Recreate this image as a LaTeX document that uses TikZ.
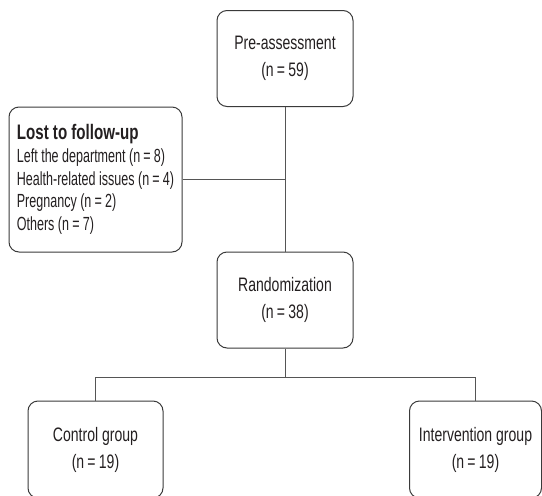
\documentclass[tikz,border=0pt]{standalone}
\usepackage{fontspec}
\setmainfont{Liberation Sans}[FakeStretch=0.72]
\usepackage{tikz}
\usetikzlibrary{positioning,calc}

\definecolor{boxline}{HTML}{3A3A3A}
\definecolor{linkline}{HTML}{555555}
\definecolor{txt}{HTML}{231F20}

\newcommand{\eqn}[1]{(n\,=\,#1)}

\begin{document}
\begin{tikzpicture}[x=1pt,y=-1pt,
		stagebox/.style={draw=boxline, line width=1pt, rounded corners=10pt, align=center, text=txt, inner sep=0pt, minimum width=136pt, minimum height=96pt, font=\fontsize{19.5}{27}\selectfont},
		lostbox/.style={draw=boxline, line width=1pt, rounded corners=10pt, align=left, text=txt, inner sep=0pt, minimum width=173pt, minimum height=145pt, font=\fontsize{19}{22.8}\selectfont\addfontfeature{FakeStretch=0.66}},
		link/.style={draw=linkline, line width=0.9pt}]
		\useasboundingbox (0,0) rectangle (542,496);
		
		\node[stagebox] (pre) at (285,58.5) {Pre-assessment\\\eqn{59}};
		\node[lostbox] (lost) at (95.5,179.5) {{\fontsize{21}{22.8}\selectfont\addfontfeature{FakeStretch=0.72}\bfseries Lost to follow-up}\\Left the department \eqn{8}\\Health-related issues \eqn{4}\\Pregnancy \eqn{2}\\Others \eqn{7}};
		\node[stagebox] (rand) at (285,300) {Randomization\\\eqn{38}};
		
		\node[stagebox, minimum width=135pt, minimum height=97pt] (ctrl) at (95.5,449.5) {Control group\\\eqn{19}};
		\node[stagebox, minimum width=132pt, minimum height=97pt] (intv) at (475.5,449.5) {Intervention group\\\eqn{19}};
		
		\coordinate (split) at (285,377);
		
		\draw[link] (pre.south) -- (rand.north);
		\draw[link] (lost.east) -- (lost.east -| pre.south);
		
		\draw[link] (rand.south) -- (split);
		\draw[link] (split) -| (ctrl.north);
		\draw[link] (split) -| (intv.north);
		
\end{tikzpicture}
\end{document}
